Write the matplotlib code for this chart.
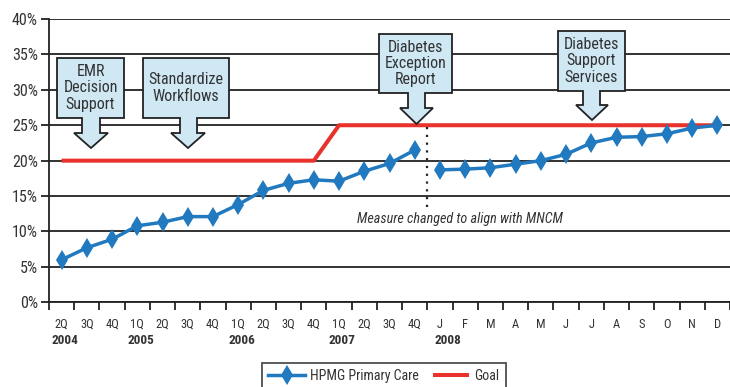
import numpy as np
import matplotlib.pyplot as plt
from matplotlib.patches import Polygon
from matplotlib.transforms import Affine2D

plt.rcParams['font.family'] = ['Roboto Condensed', 'DejaVu Sans']

# quarters 2Q04..4Q07, then months of 2008
periods = ["2Q", "3Q", "4Q", "1Q", "2Q", "3Q", "4Q", "1Q", "2Q", "3Q", "4Q",
           "1Q", "2Q", "3Q", "4Q",
           "J", "F", "M", "A", "M", "J", "J", "A", "S", "O", "N", "D"]
years = ["2004", "2005", "2006", "2007", "2008"]
year_start = [0, 3, 7, 11, 15]

hpmg_quarterly = [6.0, 7.7, 8.9, 10.8, 11.3, 12.1, 12.1, 13.8, 15.8, 16.8, 17.3,
                  17.1, 18.5, 19.6, 21.5]
hpmg_monthly = [18.7, 18.8, 19.0, 19.5, 20.0, 20.9, 22.5, 23.3, 23.4, 23.8, 24.6, 25.0]
goal = [20, 20, 20, 20, 20, 20, 20, 20, 20, 20, 20,
        25, 25, 25, 25,
        25, 25, 25, 25, 25, 25, 25, 25, 25, 25, 25, 25]

blue = "#2179bf"
red = "#e8322b"
box_fill = "#cfe8f4"
dark = "#333333"

fig = plt.figure(figsize=(7.3, 3.87), dpi=100)
ax = fig.add_axes([49 / 730, 1 - 302.3 / 387, 681 / 730, 283.3 / 387])

x = np.arange(len(periods))
xq = x[:len(hpmg_quarterly)]
xm = x[len(hpmg_quarterly):]

ax.set_xlim(-0.5, len(periods) - 0.5)
ax.set_ylim(0, 40)
ax.set_yticks(np.arange(0, 41, 5))
ax.set_yticklabels([f"{v}%" for v in range(0, 41, 5)])
ax.yaxis.grid(True, color="#222222", linewidth=1.3)
ax.set_axisbelow(True)

ax.plot(x, goal, color=red, linewidth=2.9, solid_capstyle="butt", zorder=3, label="Goal")
line_style = dict(color=blue, linewidth=2.5, marker="d", markersize=10,
                  markeredgewidth=0, zorder=4)
h_blue, = ax.plot(xq, hpmg_quarterly, **line_style, label="HPMG Primary Care")
ax.plot(xm, hpmg_monthly, **line_style)

# measure change marker
ax.plot([14.5, 14.5], [13.5, 25], color="#222222", linestyle=(0, (1, 2.5)),
        linewidth=1.6, zorder=3)
ax.text(14.5 + 1.3, 11.8, "Measure changed to align with MNCM", style="italic",
        fontsize=10.2, color=dark, ha="center", va="center")

# x axis ticks between categories
ax.set_xticks(np.arange(-0.5, len(periods) - 0.4, 1))
ax.set_xticklabels([])
ax.set_xticks(x, minor=True)
ax.set_xticklabels(periods, minor=True, fontsize=9, color=dark)
ax.tick_params(axis="x", which="minor", length=0, pad=11)
ax.tick_params(axis="x", which="major", length=6, width=1.3, color="#222222")
ax.tick_params(axis="y", length=6, width=1.3, color="#222222", labelsize=11.5,
               labelcolor=dark, pad=2)
for xs, yr in zip(year_start, years):
    ax.text(xs - 0.4 + (0.18 if yr == "2008" else 0), -5.4, yr, ha="left", va="center",
            fontsize=9.5, fontweight="bold", color=dark, clip_on=False)

for side in ["top", "right"]:
    ax.spines[side].set_visible(False)
for side in ["left", "bottom"]:
    ax.spines[side].set_linewidth(1.3)
    ax.spines[side].set_color("#222222")

# callout boxes with arrows, drawn in pixel space
px = Affine2D().scale(1 / 730, -1 / 387).translate(0, 1) + fig.transFigure


def callout(text, x0, x1, y0, y1, sx0, sx1, hx0, hx1, hy, tip):
    tx = (hx0 + hx1) / 2
    pts = [(x0, y0), (x1, y0), (x1, y1), (sx1, y1), (sx1, hy), (hx1, hy),
           (tx, tip), (hx0, hy), (sx0, hy), (sx0, y1), (x0, y1)]
    fig.patches.append(Polygon(pts, closed=True, facecolor=box_fill, edgecolor="#222222",
                               linewidth=1.3, transform=px, zorder=5))
    fig.text((x0 + x1) / 2 / 730, 1 - (y0 + y1) / 2 / 387, text, ha="center", va="center",
             fontsize=11.5, color=dark, linespacing=1.1, zorder=6)


callout("EMR\nDecision\nSupport", 57, 124, 58, 118, 82, 100, 74, 108, 133, 148)
callout("Standardize\nWorkflows", 143, 229, 58, 118, 180, 197, 171, 205, 133, 148)
callout("Diabetes\nException\nReport", 379, 452, 34, 93, 408, 425, 400, 433, 108, 124)
callout("Diabetes\nSupport\nServices", 558, 625, 31, 91, 583, 600, 576, 608, 105, 120)

leg = fig.legend(handles=[h_blue, ax.lines[0]], labels=["HPMG Primary Care", "Goal"],
                 loc="center", bbox_to_anchor=(384 / 730, 1 - 376 / 387), ncol=2,
                 fontsize=10, frameon=True, fancybox=False, edgecolor="#222222",
                 handlelength=2.6, columnspacing=1.0, handletextpad=0.4,
                 borderpad=0.45)
leg.get_frame().set_linewidth(1.3)
for t in leg.get_texts():
    t.set_color(dark)

fig.savefig("out.png", dpi=100)
